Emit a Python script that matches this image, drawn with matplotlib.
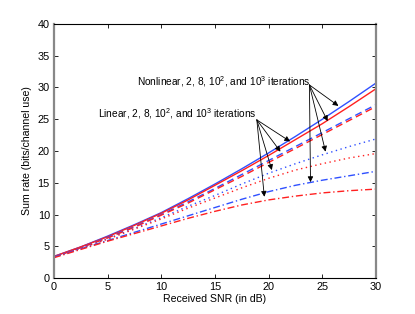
import matplotlib
matplotlib.use("Agg")
import matplotlib.pyplot as plt

snr = [0, 2.5, 5, 7.5, 10, 12.5, 15, 17.5, 20, 22.5, 25, 27.5, 30]
nl_blue_solid = [3.4, 4.9, 6.6, 8.4, 10.3, 12.5, 14.8, 17.2, 19.7, 22.3, 25.0, 27.8, 30.7]
nl_red_solid = [3.4, 4.9, 6.5, 8.3, 10.2, 12.3, 14.6, 16.9, 19.3, 21.8, 24.3, 27.0, 29.8]
nl_blue_dash = [3.3, 4.8, 6.4, 8.1, 10.0, 12.0, 14.1, 16.3, 18.5, 20.7, 22.9, 25.1, 27.3]
nl_red_dash = [3.3, 4.8, 6.3, 8.0, 9.9, 11.8, 13.9, 16.0, 18.2, 20.4, 22.6, 24.8, 27.0]
lin_blue_dot = [3.3, 4.7, 6.2, 7.8, 9.5, 11.3, 13.0, 14.8, 16.5, 18.0, 19.4, 20.7, 21.9]
lin_red_dot = [3.3, 4.7, 6.1, 7.7, 9.3, 11.0, 12.6, 14.2, 15.7, 17.0, 18.0, 18.9, 19.6]
lin_blue_dashdot = [3.3, 4.6, 5.9, 7.2, 8.5, 9.8, 11.1, 12.4, 13.6, 14.6, 15.4, 16.1, 16.8]
lin_red_dashdot = [3.2, 4.5, 5.8, 7.0, 8.2, 9.4, 10.5, 11.5, 12.3, 12.9, 13.4, 13.75, 14.0]

xticks = [0, 5, 10, 15, 20, 25, 30]
yticks = [0, 5, 10, 15, 20, 25, 30, 35, 40]

plt.rcParams['font.family'] = ['Liberation Sans', 'DejaVu Sans']
plt.rcParams['mathtext.fontset'] = 'custom'
plt.rcParams['mathtext.rm'] = 'Liberation Sans'

fig = plt.figure(figsize=(4.15, 3.14), dpi=100)
ax = fig.add_axes([0.130, 0.1146, 0.776, 0.809])

blue = '#2f50ff'
red = '#ff2020'
lw = 1.0
ax.plot(snr, nl_blue_solid, color=blue, lw=lw, ls='-')
ax.plot(snr, nl_red_solid, color=red, lw=lw, ls='-')
ax.plot(snr, nl_blue_dash, color=blue, lw=lw, ls=(0, (5, 3)))
ax.plot(snr, nl_red_dash, color=red, lw=lw, ls=(0, (5, 3)))
ax.plot(snr, lin_blue_dot, color=blue, lw=lw, ls=(0, (1, 2.5)))
ax.plot(snr, lin_red_dot, color=red, lw=lw, ls=(0, (1, 2.5)))
ax.plot(snr, lin_blue_dashdot, color=blue, lw=lw, ls=(0, (5, 2, 1, 2)))
ax.plot(snr, lin_red_dashdot, color=red, lw=lw, ls=(0, (5, 2, 1, 2)))

ax.set_xlim(0, 30)
ax.set_ylim(0, 40)
ax.set_xticks(xticks)
ax.set_yticks(yticks)
ax.tick_params(direction='in', top=True, right=True, labelsize=7.8, length=3, width=0.6, pad=3)
for s in ['top', 'bottom']:
    ax.spines[s].set_linewidth(0.8)
for s in ['left', 'right']:
    ax.spines[s].set_color('#888888')
    ax.spines[s].set_linewidth(1.6)

ax.set_xlabel('Received SNR (in dB)', fontsize=7.6, labelpad=1)
ax.set_ylabel('Sum rate (bits/channel use)', fontsize=7.6, labelpad=4)

aprops = dict(arrowstyle='-|>', lw=0.6, color='k', mutation_scale=8, shrinkA=0, shrinkB=0)
nl_origin = (23.8, 30.4)
for tgt in [(26.5, 27.1), (25.5, 24.7), (25.3, 19.9), (23.9, 15.1)]:
    ax.annotate('', xy=tgt, xytext=nl_origin, arrowprops=aprops)
ax.text(23.9, 30.9, 'Nonlinear, 2, 8, 10$^2$, and 10$^3$ iterations', fontsize=7.3,
        ha='right', va='center')

lin_origin = (18.9, 24.9)
for tgt in [(22.0, 21.5), (21.1, 19.9), (20.3, 17.0), (19.6, 12.8)]:
    ax.annotate('', xy=tgt, xytext=lin_origin, arrowprops=aprops)
ax.text(18.9, 25.9, 'Linear, 2, 8, 10$^2$, and 10$^3$ iterations', fontsize=7.3,
        ha='right', va='center')

fig.savefig('out.png', dpi=100)
